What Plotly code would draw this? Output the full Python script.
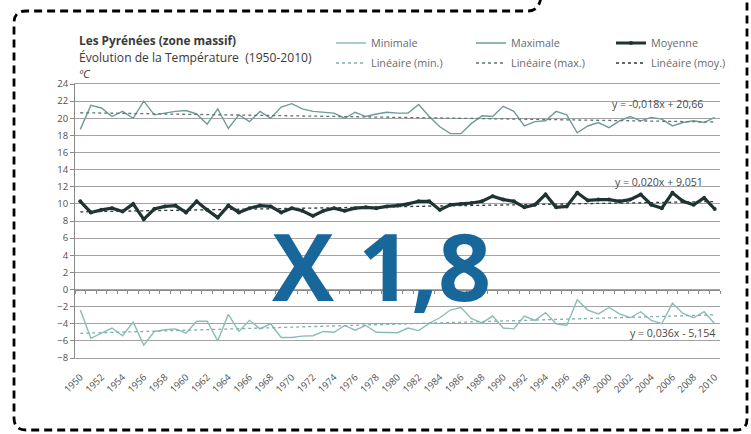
import numpy as np
import plotly.graph_objects as go

# ---- data -------------------------------------------------------------
years = list(range(1950, 2011))

t_min = [-2.4, -5.7, -5.1, -4.5, -5.4, -3.8, -6.5, -4.9, -4.7, -4.6,
         -5.1, -3.7, -3.7, -6.0, -2.9, -4.9, -3.6, -4.6, -4.0, -5.6,
         -5.6, -5.45, -5.4, -4.9, -5.0, -4.2, -4.75, -4.2, -5.0, -5.0,
         -5.05, -4.5, -4.8, -3.95, -3.3, -2.4, -2.1, -3.4, -3.9, -3.1,
         -4.5, -4.6, -3.1, -3.6, -2.7, -4.0, -4.2, -1.2, -2.4, -2.85,
         -2.1, -2.85, -3.3, -2.6, -3.6, -4.0, -1.6, -2.8, -3.3, -2.6,
         -4.0]

t_max = [18.7, 21.5, 21.2, 20.2, 20.8, 20.0, 22.0, 20.4, 20.6, 20.8,
         20.9, 20.5, 19.3, 21.1, 18.8, 20.4, 19.6, 20.8, 20.0, 21.3,
         21.7, 21.1, 20.8, 20.7, 20.6, 20.0, 20.7, 20.2, 20.5, 20.7,
         20.6, 20.6, 21.6, 20.2, 19.0, 18.2, 18.2, 19.4, 20.3, 20.2,
         21.4, 20.8, 19.1, 19.6, 19.7, 20.8, 20.4, 18.3, 19.1, 19.5,
         18.9, 19.7, 20.2, 19.7, 20.1, 19.9, 19.1, 19.5, 19.7, 19.5,
         20.1]

t_moy = [10.3, 9.0, 9.3, 9.5, 9.1, 10.0, 8.2, 9.4, 9.7, 9.8,
         9.0, 10.3, 9.3, 8.4, 9.8, 9.0, 9.5, 9.8, 9.7, 9.0,
         9.5, 9.2, 8.6, 9.2, 9.5, 9.2, 9.5, 9.6, 9.5, 9.7,
         9.8, 10.0, 10.3, 10.3, 9.3, 9.9, 10.0, 10.1, 10.3, 10.9,
         10.5, 10.3, 9.6, 9.9, 11.1, 9.6, 9.7, 11.3, 10.4, 10.5,
         10.5, 10.3, 10.5, 11.1, 9.9, 9.5, 11.3, 10.3, 9.9, 10.7,
         9.4]

# linear trends (slope, intercept) with x = 1 .. 61
trend_min = (0.036, -5.154)
trend_max = (-0.018, 20.66)
trend_moy = (0.020, 9.051)

tick_years = list(range(1950, 2011, 2))
y_ticks = list(range(-8, 25, 2))

# ---- geometry helpers (pixel -> paper) ----------------------------------
W, H = 751, 434
L, R, T, B = 75, 31, 84, 76
PW, PH = W - L - R, H - T - B


def xp(px):
    return (px - L) / PW


def yp(py):
    return (H - B - py) / PH


def fmt(v, spec):
    return format(v, spec).replace(".", ",")


def eq_text(a, b):
    sign = "+" if b >= 0 else "-"
    return f"y = {fmt(a, '.3f')}x {sign} {fmt(abs(b), '.4g')}"


idx = np.arange(1, len(years) + 1)

C_MIN = "#8cbcb7"
C_MAX = "#6f9c98"
C_MOY = "#1e3432"
FONT = "Open Sans"

fig = go.Figure()

fig.add_trace(go.Scatter(x=years, y=t_min, mode="lines", name="Minimale",
                         line=dict(color=C_MIN, width=1.4), legend="legend"))
fig.add_trace(go.Scatter(x=years, y=t_max, mode="lines", name="Maximale",
                         line=dict(color=C_MAX, width=1.4), legend="legend"))
fig.add_trace(go.Scatter(x=years, y=t_moy, mode="lines+markers", name="Moyenne",
                         line=dict(color=C_MOY, width=3.2),
                         marker=dict(size=4, color=C_MOY), legend="legend"))

for name, (a, b), col in [("Linéaire (min.)", trend_min, "#7fb0aa"),
                          ("Linéaire (max.)", trend_max, "#5d7573"),
                          ("Linéaire (moy.)", trend_moy, "#2c3a39")]:
    fig.add_trace(go.Scatter(x=years, y=a * idx + b, mode="lines", name=name,
                             xaxis="x2",
                             line=dict(color=col, width=1.3, dash="3px,3px"),
                             legend="legend2"))

GRID = "#a3a3a3"
TXT = "#505050"

fig.update_layout(
    width=W, height=H,
    margin=dict(l=L, r=R, t=T, b=B, autoexpand=False),
    paper_bgcolor="white", plot_bgcolor="white",
    font=dict(family=FONT, size=10, color=TXT),
    xaxis=dict(range=[1949.5, 2010.5], tickvals=tick_years,
               ticktext=[str(y) for y in tick_years], tickangle=-45,
               showgrid=False, zeroline=False, showline=True, mirror=True,
               linecolor=GRID, linewidth=1, ticks="",
               tickfont=dict(size=9.5, color=TXT), ticklabelstandoff=9),
    xaxis2=dict(overlaying="x", matches="x", anchor="free",
                position=yp(290), showline=True, linecolor="#8a8a8a",
                linewidth=1.2, ticks="outside", ticklen=3, tickcolor="#8a8a8a",
                dtick=1, tick0=1949.5, showticklabels=False, showgrid=False,
                zeroline=False),
    yaxis=dict(range=[-8, 24], tickvals=y_ticks, showgrid=True,
               gridcolor=GRID, gridwidth=1, zeroline=False, showline=True,
               linecolor="#8a8a8a", ticks="outside", ticklen=4,
               tickcolor="#8a8a8a", tickfont=dict(size=9.5, color=TXT)),
    legend=dict(orientation="h", x=xp(331), y=yp(43), xanchor="left",
                yanchor="middle", entrywidth=95, bgcolor="rgba(0,0,0,0)",
                font=dict(size=10.8, color="#6a6a6a"), traceorder="normal"),
    legend2=dict(orientation="h", x=xp(331), y=yp(63), xanchor="left",
                 yanchor="middle", entrywidth=95, bgcolor="rgba(0,0,0,0)",
                 font=dict(size=10.8, color="#6a6a6a"), traceorder="normal"),
    showlegend=True,
)

annotations = [
    dict(text="<b>Les Pyrénées (zone massif)</b>", x=xp(77), y=yp(40),
         font=dict(size=11.8, color="#3a3a3a")),
    dict(text="Évolution de la Température  (1950-2010)", x=xp(77), y=yp(57),
         font=dict(size=12.1, color="#3a3a3a")),
    dict(text="<i>ºC</i>", x=xp(77), y=yp(73), font=dict(size=11.5, color="#3a3a3a")),
]
for a in annotations:
    a.update(xref="paper", yref="paper", xanchor="left", yanchor="middle",
             showarrow=False)

eq_pos = [(trend_max, 2009.1, 21.7), (trend_moy, 2009.1, 12.6), (trend_min, 2010.2, -5.1)]
for (a, b), xx, yy in eq_pos:
    annotations.append(dict(text=eq_text(a, b), x=xx, y=yy, xref="x", yref="y",
                            xanchor="right", yanchor="middle", showarrow=False,
                            font=dict(size=10.6, color="#4a4a4a")))

annotations.append(dict(text="<b>X 1,8</b>", x=xp(381), y=yp(265),
                        xref="paper", yref="paper", xanchor="center",
                        yanchor="middle", showarrow=False,
                        font=dict(family="Open Sans", size=93, color="#17679b")))
fig.update_layout(annotations=annotations)

# dashed frame around the whole figure
def P(px, py):
    return f"{xp(px):.5f},{yp(py):.5f}"

frame = (f"M{P(541, -3)} Q{P(539, 11)} {P(528, 11)} L{P(26, 11)} "
         f"Q{P(14, 11)} {P(14, 23)} L{P(14, 418)} Q{P(14, 430)} {P(26, 430)} "
         f"L{P(736, 430)} Q{P(747, 430)} {P(747, 419)} L{P(747, -3)}")
fig.add_shape(type="path", path=frame, xref="paper", yref="paper",
              line=dict(color="black", width=2.8, dash="8px,5px"), layer="above")

fig.write_html("out.html")
